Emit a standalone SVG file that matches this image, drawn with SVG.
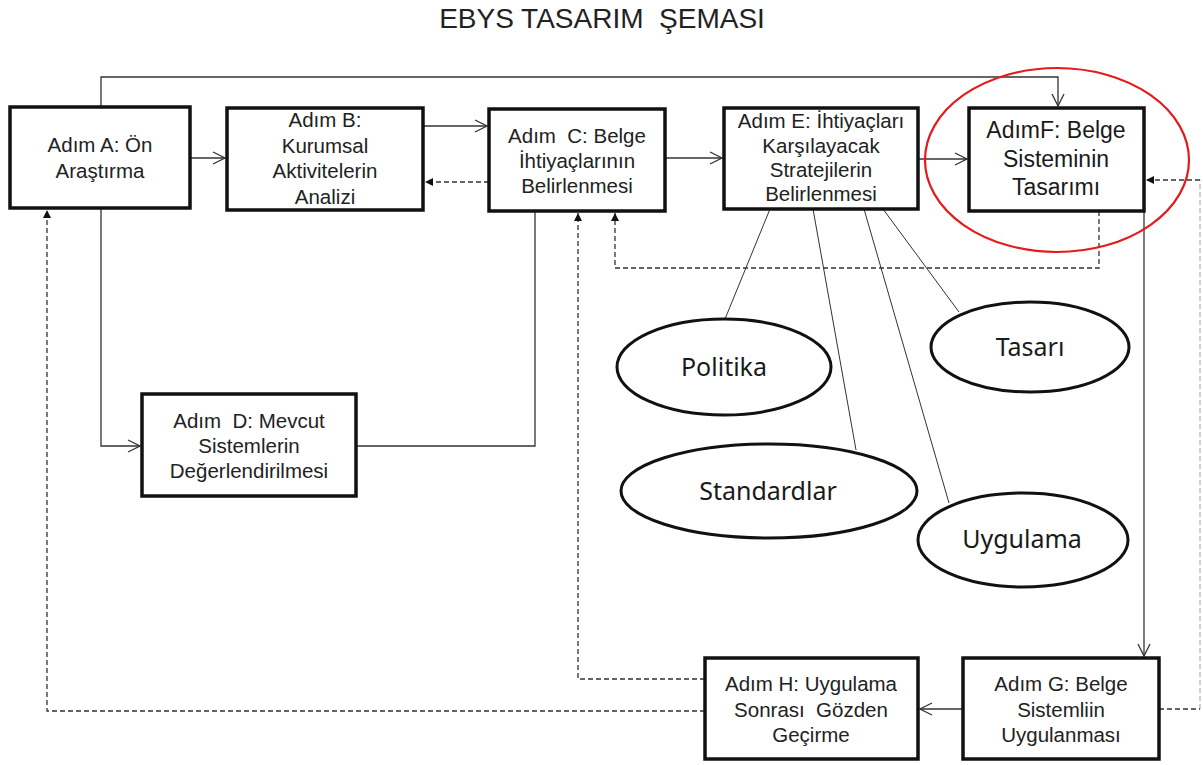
<svg xmlns="http://www.w3.org/2000/svg" width="1203" height="765" viewBox="0 0 1203 765">
<style>
.box{fill:#fff;stroke:#111;stroke-width:3.5}
.t{font-family:"Liberation Sans",Arial,sans-serif;font-size:20.5px;fill:#222;text-anchor:middle}
.tf{font-family:"Liberation Sans",Arial,sans-serif;font-size:23px;fill:#1a1a1a;text-anchor:middle}
.el{fill:#fff;stroke:#111;stroke-width:3}
.et{font-family:"Noto Sans","Open Sans",sans-serif;font-size:25px;fill:#1a1a1a;text-anchor:middle}
.c{fill:none;stroke:#333;stroke-width:1.3}
.d{fill:none;stroke:#333;stroke-width:1.3;stroke-dasharray:5,3}
.s{fill:none;stroke:#333;stroke-width:1}
</style>
<defs>
<marker id="open" markerUnits="userSpaceOnUse" markerWidth="14" markerHeight="14" refX="13" refY="7" orient="auto">
<path d="M1,1 L13,7 L1,13" fill="none" stroke="#333" stroke-width="1.3"/>
</marker>
<marker id="fill" markerUnits="userSpaceOnUse" markerWidth="10" markerHeight="10" refX="9" refY="5" orient="auto">
<path d="M1,1 L9,5 L1,9 Z" fill="#111"/>
</marker>
</defs>
<rect width="1203" height="765" fill="#fff"/>
<text x="602" y="28" font-family="Liberation Sans,Arial,sans-serif" font-size="28" fill="#222" text-anchor="middle" xml:space="preserve">EBYS TASARIM  ŞEMASI</text>

<g id="connectors">
<path class="c" d="M101,107 V77 H1058 V106" marker-end="url(#open)"/>
<path class="c" d="M190,158 H225" marker-end="url(#open)"/>
<path class="c" d="M423,126 H487" marker-end="url(#open)"/>
<path class="d" d="M489,182 H425" marker-end="url(#fill)"/>
<path class="c" d="M665,158 H722" marker-end="url(#open)"/>
<path class="c" d="M918,159 H967" marker-end="url(#open)"/>
<path class="c" d="M101,208 V446 H140" marker-end="url(#open)"/>
<path class="c" d="M356,446 H535 V211"/>
<path class="d" d="M1099,211 V268 H615 V213" marker-end="url(#fill)"/>
<path class="c" d="M1144,211 V656" marker-end="url(#open)"/>
<path class="c" d="M963,709 H920" marker-end="url(#open)"/>
<path class="d" d="M705,679 H578 V213" marker-end="url(#fill)"/>
<path class="d" d="M705,711 H47 V210" marker-end="url(#fill)"/>
<path class="d" d="M1159,709 H1200"/>
<path class="d" d="M1200,709 V180" stroke-opacity="0.35"/>
<path class="d" d="M1200,180 H1146" marker-end="url(#fill)"/>
<path class="s" d="M770,209 L725,319"/>
<path class="s" d="M813,209 L856,450"/>
<path class="s" d="M864,209 L949,503"/>
<path class="s" d="M883,209 L959,312"/>
</g>

<g id="nodeA"><rect class="box" x="10" y="107" width="180" height="101"/>
<text class="t" x="100" y="152" xml:space="preserve">Adım A: Ön</text><text class="t" x="100" y="178">Araştırma</text></g>
<g id="nodeB"><rect class="box" x="227" y="108" width="196" height="102"/>
<text class="t" x="325" y="127">Adım B:</text><text class="t" x="325" y="153">Kurumsal</text><text class="t" x="325" y="178">Aktivitelerin</text><text class="t" x="325" y="204">Analizi</text></g>
<g id="nodeC"><rect class="box" x="489" y="109" width="176" height="102"/>
<text class="t" x="577" y="143" xml:space="preserve">Adım  C: Belge</text><text class="t" x="577" y="168">İhtiyaçlarının</text><text class="t" x="577" y="193">Belirlenmesi</text></g>
<g id="nodeE"><rect class="box" x="724" y="108" width="194" height="101"/>
<text class="t" x="821" y="128">Adım E: İhtiyaçları</text><text class="t" x="821" y="153">Karşılayacak</text><text class="t" x="821" y="177">Stratejilerin</text><text class="t" x="821" y="201">Belirlenmesi</text></g>
<g id="nodeF"><rect class="box" x="969" y="108" width="175" height="103"/>
<text class="tf" x="1056" y="138">AdımF: Belge</text><text class="tf" x="1056" y="167">Sisteminin</text><text class="tf" x="1056" y="195">Tasarımı</text></g>
<g id="nodeD"><rect class="box" x="142" y="394" width="214" height="102"/>
<text class="t" x="249" y="428" xml:space="preserve">Adım  D: Mevcut</text><text class="t" x="249" y="453">Sistemlerin</text><text class="t" x="249" y="478">Değerlendirilmesi</text></g>
<g id="nodeH"><rect class="box" x="705" y="658" width="213" height="101"/>
<text class="t" x="811" y="691">Adım H: Uygulama</text><text class="t" x="811" y="717" xml:space="preserve">Sonrası  Gözden</text><text class="t" x="811" y="742">Geçirme</text></g>
<g id="nodeG"><rect class="box" x="963" y="658" width="196" height="101"/>
<text class="t" x="1061" y="691">Adım G: Belge</text><text class="t" x="1061" y="717">Sistemliin</text><text class="t" x="1061" y="742">Uygulanması</text></g>

<g id="politika"><ellipse class="el" cx="724" cy="367" rx="107" ry="48"/><text class="et" x="724" y="376">Politika</text></g>
<g id="standardlar"><ellipse class="el" cx="769" cy="491" rx="148" ry="47"/><text class="et" x="768" y="500">Standardlar</text></g>
<g id="tasari"><ellipse class="el" cx="1030" cy="347" rx="99" ry="45"/><text class="et" x="1030" y="356">Tasarı</text></g>
<g id="uygulama"><ellipse class="el" cx="1023" cy="540" rx="105" ry="47"/><text class="et" x="1022" y="548">Uygulama</text></g>

<g id="highlight"><ellipse cx="1057" cy="160" rx="132" ry="92" fill="none" stroke="#e31b1b" stroke-width="2.2"/></g>
</svg>
